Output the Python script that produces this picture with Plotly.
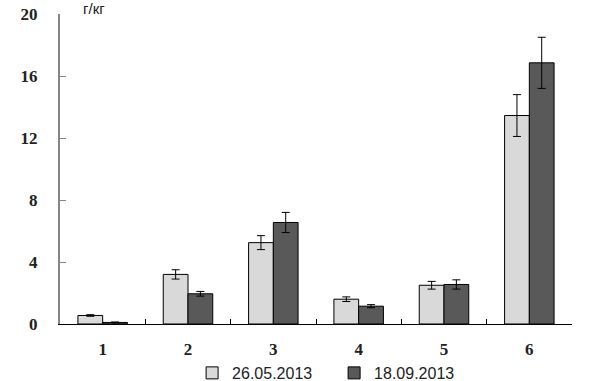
import plotly.graph_objects as go

categories = ["1", "2", "3", "4", "5", "6"]
series1_name = "26.05.2013"
series1 = [0.55, 3.2, 5.25, 1.6, 2.5, 13.45]
series1_err = [0.05, 0.3, 0.45, 0.15, 0.25, 1.35]
series2_name = "18.09.2013"
series2 = [0.1, 1.95, 6.55, 1.15, 2.55, 16.85]
series2_err = [0.03, 0.15, 0.65, 0.1, 0.3, 1.65]
y_ticks = [0, 4, 8, 12, 16, 20]

fig = go.Figure()
fig.add_trace(go.Bar(
    x=categories, y=series1, name=series1_name,
    marker=dict(color="#d9d9d9", line=dict(color="#000000", width=1)),
    error_y=dict(type="data", array=series1_err, color="#000000", thickness=1, width=4),
))
fig.add_trace(go.Bar(
    x=categories, y=series2, name=series2_name,
    marker=dict(color="#595959", line=dict(color="#000000", width=1)),
    error_y=dict(type="data", array=series2_err, color="#000000", thickness=1, width=4),
))

fig.update_layout(
    width=597, height=381,
    margin=dict(l=60, r=25, t=14, b=57, autoexpand=False),
    paper_bgcolor="white", plot_bgcolor="white",
    barmode="group", bargap=0.42, bargroupgap=0,
    showlegend=True,
    legend=dict(orientation="h", x=0.258, xanchor="left", y=-0.158, yanchor="middle",
                font=dict(family="Liberation Sans", size=16, color="#222222"),
                itemwidth=30, tracegroupgap=0, entrywidth=97, entrywidthmode="pixels"),
    font=dict(family="Liberation Serif", size=17, color="#222222"),
)
fig.update_xaxes(
    type="category", showline=True, linecolor="#000000", linewidth=1,
    ticks="inside", tickson="boundaries", ticklen=5, tickcolor="#000000",
    showgrid=False, tickfont=dict(family="Liberation Serif", size=17, weight="bold"),
    ticklabelstandoff=10,
)
fig.update_yaxes(
    range=[0, 20], tickvals=y_ticks, showline=True, linecolor="#868686", linewidth=2,
    ticks="inside", ticklen=6, tickcolor="#868686", showgrid=False, zeroline=False,
    tickfont=dict(family="Liberation Serif", size=17, weight="bold"), ticklabelstandoff=17,
)
fig.add_annotation(
    text="г/кг", xref="paper", yref="paper", x=0.041, y=1.0, xanchor="left", yanchor="middle",
    showarrow=False, yshift=6, font=dict(family="Liberation Sans", size=15, color="#222222"),
)

fig.write_html("out.html", config={"displayModeBar": False},
               post_script="document.body.style.margin='0px';")
